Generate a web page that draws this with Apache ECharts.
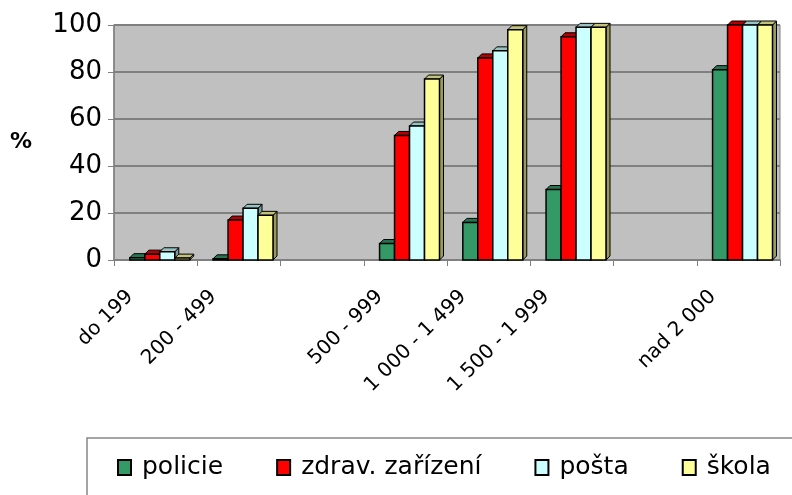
<!DOCTYPE html>
<html>
<head>
<meta charset="utf-8">
<script src="https://cdn.jsdelivr.net/npm/echarts@6/dist/echarts.min.js"></script>
<style>
  html, body { margin: 0; padding: 0; background: #fff; }
  #chart { width: 792px; height: 495px; }
</style>
</head>
<body>
<div id="chart"></div>
<script>
// size classes of municipalities (empty slots keep the gaps of the original axis)
const categories = ['do 199', '200 - 499', '', '500 - 999', '1 000 - 1 499', '1 500 - 1 999', '', 'nad 2 000']
const policie = [1, 0.5, null, 7, 16, 30, null, 81]
const zdrav = [2.5, 17, null, 53, 86, 95, null, 100]
const posta = [3.5, 22, null, 57, 89, 99, null, 100]
const skola = [0.8, 19, null, 77, 98, 99, null, 100]
const seriesNames = ['policie', 'zdrav. zařízení', 'pošta', 'škola']
const yTicks = [0, 20, 40, 60, 80, 100]

const colors = ['#339966', '#ff0000', '#ccffff', '#ffff99']
const sideColors = ['#1f5c3d', '#990000', '#7a9999', '#99995c']
const topColors = ['#267350', '#b30000', '#99c2c2', '#c2c27a']

function renderBar(si) {
  return function (params, api) {
    const val = api.value(1)
    if (val == null || isNaN(val)) return
    const cat = api.value(0)
    const base = api.coord([cat, 0])
    const top = api.coord([cat, val])
    const slot = api.size([1, 0])[0]
    const w = slot * 0.18
    const x = base[0] - slot * 0.31 + si * w
    const d = 4
    const y0 = base[1], y1 = top[1]
    return {
      type: 'group',
      children: [
        {
          type: 'polygon',
          shape: { points: [[x + w, y1], [x + w + d, y1 - d], [x + w + d, y0 - d], [x + w, y0]] },
          style: { fill: sideColors[si], stroke: '#000', lineWidth: 1 }
        },
        {
          type: 'polygon',
          shape: { points: [[x, y1], [x + d, y1 - d], [x + w + d, y1 - d], [x + w, y1]] },
          style: { fill: topColors[si], stroke: '#000', lineWidth: 1 }
        },
        {
          type: 'rect',
          shape: { x: x, y: y1, width: w, height: y0 - y1 },
          style: { fill: colors[si], stroke: '#000', lineWidth: 1.5 }
        }
      ]
    }
  }
}

const chart = echarts.init(document.getElementById('chart'))
const allData = [policie, zdrav, posta, skola]

chart.setOption({
  animation: false,
  textStyle: { fontFamily: 'DejaVu Sans, Arial, sans-serif' },
  grid: {
    left: 114,
    right: 12,
    top: 25,
    bottom: 235,
    show: true,
    backgroundColor: '#c0c0c0',
    borderColor: '#808080',
    borderWidth: 1
  },
  graphic: [{
    type: 'text',
    left: 10,
    top: 131,
    style: { text: '%', font: 'bold 22px DejaVu Sans, Arial, sans-serif', fill: '#000' }
  }],
  legend: {
    left: 87,
    top: 438,
    width: 700,
    padding: [17, 30, 40, 30],
    borderColor: '#888888',
    borderWidth: 1.5,
    itemWidth: 13,
    itemHeight: 15,
    itemGap: 53,
    icon: 'rect',
    data: seriesNames,
    textStyle: { fontSize: 25, color: '#000', padding: [0, 0, 0, 6] }
  },
  xAxis: {
    type: 'category',
    data: categories,
    boundaryGap: true,
    axisLine: { lineStyle: { color: '#808080', width: 1.5 } },
    axisTick: { show: true, length: 6, lineStyle: { color: '#808080' } },
    axisLabel: {
      rotate: 45,
      interval: 0,
      fontSize: 20,
      color: '#000',
      margin: 8,
      padding: [0, 36, 0, 0]
    }
  },
  yAxis: {
    type: 'value',
    min: yTicks[0],
    max: yTicks[yTicks.length - 1],
    interval: 20,
    axisLine: { show: true, lineStyle: { color: '#808080', width: 1.5 } },
    axisTick: { show: true, length: 6, lineStyle: { color: '#808080' } },
    splitLine: { lineStyle: { color: '#808080', width: 2 } },
    axisLabel: { fontSize: 26, color: '#000', margin: 12 }
  },
  series: allData.map((arr, si) => ({
    name: seriesNames[si],
    type: 'custom',
    renderItem: renderBar(si),
    itemStyle: { color: colors[si], borderColor: '#000', borderWidth: 1 },
    encode: { x: 0, y: 1 },
    data: arr.map((v, i) => [i, v])
  }))
})
</script>
</body>
</html>
